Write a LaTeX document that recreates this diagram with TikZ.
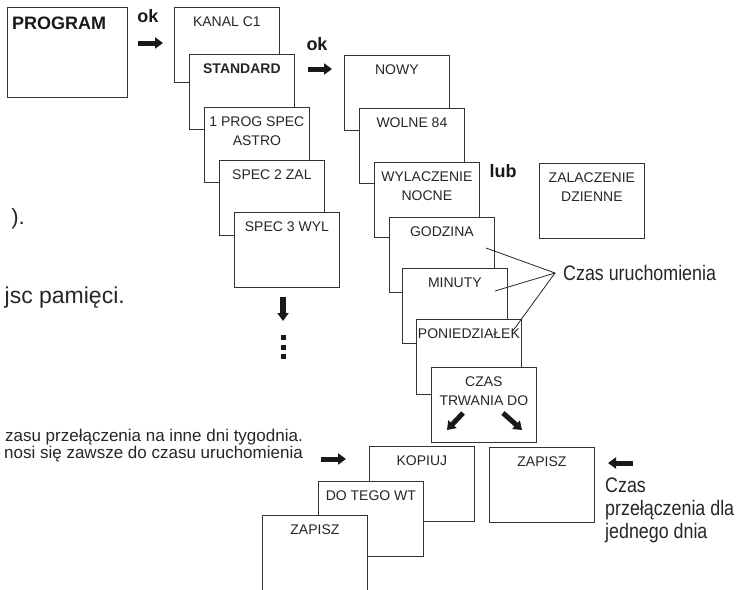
\documentclass[tikz,border=0pt]{standalone}
\usepackage{fontspec}
\setmainfont{Liberation Sans}
\newfontfamily\narrowfont[FakeStretch=0.85]{Liberation Sans}
\usetikzlibrary{arrows.meta,calc}

\begin{document}
\begin{tikzpicture}[x=1pt, y=-1pt,
  scr/.style={draw=black!80, line width=0.8pt, fill=white, minimum width=105, minimum height=75, anchor=north west, inner sep=0},
  txt/.style={label={[anchor=north, inner sep=0, yshift=-10, align=center, font=\fontsize{14}{19}\selectfont, text=black!85]north:#1}},
  big/.style={font=\narrowfont\fontsize{21}{23}\selectfont, text=black!85, inner sep=0},
  note/.style={font=\fontsize{17}{15.5}\selectfont, text=black!85, inner sep=0},
  kw/.style={font=\bfseries\fontsize{18}{20}\selectfont, text=black!90, inner sep=0},
  blk/.style={line width=5pt, black!90, -{Triangle[length=8pt,width=11pt]}},
  dot/.style={fill=black!90, minimum size=5, inner sep=0}]
\useasboundingbox (0,0) rectangle (736,589);
\clip (0,0) rectangle (736,589);

% fragments of the page text
\node[big, font=\fontsize{22}{23}\selectfont, anchor=base east] (par) at (25,224) {).};
\node[big, font=\fontsize{23}{23}\selectfont, anchor=base east] (mem) at (125,303) {jsc pamięci.};
\node[note, anchor=north east, align=right] (copy) at (303,429)
  {zasu przełączenia na inne dni tygodnia.\\nosi się zawsze do czasu uruchomienia};

% menu
\node[scr, minimum width=120, minimum height=90,
  label={[anchor=north west, inner sep=0, xshift=5, yshift=-10, font=\bfseries\fontsize{18}{20}\selectfont, text=black!90]north west:PROGRAM}] (prog) at (7,7) {};
\node[kw, anchor=base] (ok1) at (148,23) {ok};
\draw[blk] (138,43) -- (163,43);

\node[scr, txt={KANAL C1}] (kanal) at (174,7) {};
\node[scr, txt={\bfseries STANDARD}] (std) at (189,54) {};
\node[scr, txt={1 PROG SPEC\\ASTRO}] (astro) at (204,107) {};
\node[scr, txt={SPEC 2 ZAL}] (spec2) at (219,160) {};
\node[scr, txt={SPEC 3 WYL}] (spec3) at (234,212) {};
\draw[blk, line width=6pt] (283,297) -- (283,321);
\foreach \y [count=\i] in {337,347,356}
  \node[dot] (d\i) at (283,\y) {};

\node[kw, anchor=base] (ok2) at (317,50) {ok};
\draw[blk] (308,69) -- (332,69);

\node[scr, txt={NOWY}] (nowy) at (344,55) {};
\node[scr, txt={WOLNE 84}] (wolne) at (359,108) {};
\node[scr, txt={WYLACZENIE\\NOCNE}] (wyl) at (374,162) {};
\node[kw, anchor=base] (lub) at (503,177) {lub};
\node[scr, txt={ZALACZENIE\\DZIENNE}] (zal) at (539,163) {};

\node[scr, txt={GODZINA}] (godz) at (389,217) {};
\node[scr, txt={MINUTY}] (min) at (402,268) {};
\node[scr, txt={PONIEDZIAŁEK}] (pon) at (416,319) {};
\node[scr, txt={CZAS\\TRWANIA DO}] (trw) at (431,367) {};
\draw[blk] (463,413) -- (447,430);
\draw[blk] (503,413) -- (522,430);

% start time
\coordinate (apex) at (555,273);
\draw[black!85, line width=0.8pt] ($(godz.north west)+(97,31)$) -- (apex) -- ($(min.north west)+(93,23)$);
\draw[black!85, line width=0.8pt] (apex) -- ($(pon.north west)+(96,13)$);
\node[big, anchor=base west] (start) at (563,280) {Czas uruchomienia};

% copy / save
\draw[blk] (321,459) -- (346,459);
\node[scr, txt={KOPIUJ}] (kop) at (369,446) {};
\node[scr, txt={DO TEGO WT}] (wt) at (318,481) {};
\node[scr, minimum height=100, txt={ZAPISZ}] (zap1) at (262,515) {};
\node[scr, txt={ZAPISZ}] (zap2) at (489,447) {};
\draw[blk] (633,463) -- (608,463);
\node[big, anchor=north west, align=left] (day) at (605,478)
  {Czas\\przełączenia dla\\jednego dnia};
\end{tikzpicture}
\end{document}
